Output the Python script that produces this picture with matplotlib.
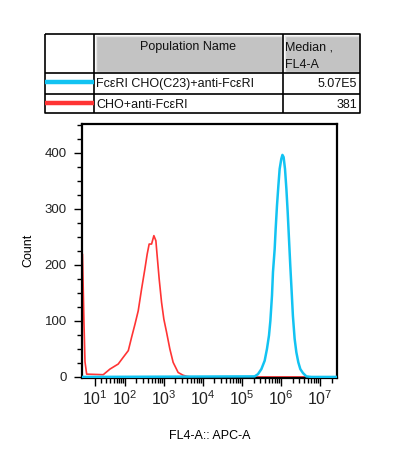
import numpy as np
import matplotlib
matplotlib.use("Agg")
import matplotlib.pyplot as plt
from matplotlib.patches import Rectangle

plt.rcParams['font.family'] = ['Liberation Sans', 'DejaVu Sans']

# ---------------- data ----------------
pop_names = ["FcεRI CHO(C23)+anti-FcεRI", "CHO+anti-FcεRI"]
medians = ["5.07E5", "381"]
header_name = "Population Name"
header_stat = ["Median ,", "FL4-A"]
series_colors = ["#12C3F2", "#FF3434"]

red_x = [-8.3, -7.6, -5.5, -4.1, -1.8, 23.6, 38.8, 66.4, 90.4, 123, 150, 183, 222,
         271, 330, 377, 424, 489, 560, 630, 680, 765, 881, 1009, 1182, 1436,
         1745, 2341, 3143, 3979, 5000, 2.7e7]
red_y = [0, 219, 97, 27, 5, 4, 14, 23, 35, 47, 71, 94, 118,
         157, 193, 219, 237, 237, 252, 243, 216, 175, 133, 103, 80, 50,
         26, 8, 3, 1, 0, 0]

blue_x = [-8.3, 2.14e5, 2.60e5, 3.18e5, 3.86e5, 4.42e5, 4.98e5, 5.40e5, 5.94e5,
          6.30e5, 6.96e5, 7.38e5, 7.97e5, 8.66e5, 9.34e5, 1.03e6, 1.10e6,
          1.18e6, 1.28e6, 1.39e6, 1.50e6, 1.62e6, 1.75e6, 1.90e6, 2.04e6,
          2.26e6, 2.50e6, 2.81e6, 3.16e6, 3.69e6, 4.50e6, 6.0e6, 2.7e7]
blue_y = [0, 1, 5, 14, 29, 50, 74, 100, 145,
          187, 228, 264, 305, 341, 371, 389, 396,
          392, 371, 335, 294, 246, 198, 151, 109,
          68, 44, 26, 14, 7, 1, 0, 0]

x_major = [10, 100, 1e3, 1e4, 1e5, 1e6, 1e7]
x_major_labels = [r"$\mathregular{10^{%d}}$" % e for e in range(1, 8)]
x_minor = [k * 10.0 ** n for n in range(1, 8) for k in range(2, 10)]
y_major = [0, 100, 200, 300, 400]
y_minor = [25, 50, 75, 125, 150, 175, 225, 250, 275, 325, 350, 375, 425, 450]

# ---------------- figure ----------------
W, H = 403, 462
fig = plt.figure(figsize=(W / 100, H / 100), dpi=100)

ax = fig.add_axes([82 / W, 1 - 377.5 / H, (337 - 82) / W, (377.5 - 123.5) / H])

C = 23.0
fwd = lambda x: np.arcsinh(np.asarray(x, dtype=float) / C) / np.log(10)
inv = lambda y: C * np.sinh(np.asarray(y, dtype=float) * np.log(10))
ax.set_xscale('function', functions=(fwd, inv))

ax.plot(red_x, red_y, color=series_colors[1], lw=1.2, zorder=2)
ax.plot(blue_x, blue_y, color=series_colors[0], lw=1.8, zorder=3)

ax.set_xlim(-8.3, 2.75e7)
ax.set_ylim(-1, 452)

ax.set_xticks(x_major)
ax.set_xticklabels(x_major_labels, fontsize=11.5)
ax.set_xticks([v for v in x_minor if v < 2.75e7], minor=True)
ax.set_yticks(y_major)
ax.set_yticklabels([str(v) for v in y_major], fontsize=9.5)
ax.set_yticks(y_minor, minor=True)

ax.tick_params(which='major', direction='out', length=6, width=1, color='black', labelcolor='#222222')
ax.tick_params(which='minor', direction='out', length=3.5, width=1, color='black')
ax.tick_params(axis='x', which='major', pad=2.5)
ax.tick_params(axis='y', which='major', pad=5)
for s in ax.spines.values():
    s.set_linewidth(1.6)

ax.set_ylabel("Count", fontsize=9, labelpad=7)
ax.set_xlabel("FL4-A:: APC-A", fontsize=9, labelpad=16)

# ---------------- table overlay ----------------
tab = fig.add_axes([0, 0, 1, 1], zorder=-1)
tab.set_xlim(0, W)
tab.set_ylim(H, 0)
tab.axis('off')

x0, x1, x2, x3 = 45, 94, 283, 360
yt, yh, yr, yb = 34, 73, 94, 113

# header gray cells
for (a, b) in [(x1, x2), (x2, x3)]:
    tab.add_patch(Rectangle((a + 1.5, yt + 1.5), b - a - 3, yh - yt - 3,
                            facecolor='#c3c3c3', edgecolor='#e6e6e6', lw=1))
# grid lines
lk = dict(color='black', lw=1.2, solid_capstyle='butt')
tab.plot([x0, x3, x3, x0, x0], [yt, yt, yb, yb, yt], **lk)
tab.plot([x0, x3], [yh, yh], **lk)
tab.plot([x0, x3], [yr, yr], **lk)
tab.plot([x1, x1], [yt, yb], **lk)
tab.plot([x2, x2], [yt, yb], **lk)

tab.text((x1 + x2) / 2, 47, header_name, ha='center', va='center', fontsize=9, color='#111111')
tab.text(x2 + 2, 48, header_stat[0], ha='left', va='center', fontsize=9, color='#111111')
tab.text(x2 + 2, 65, header_stat[1], ha='left', va='center', fontsize=9, color='#111111')

row_centers = [84, 104.5]
line_y = [81.7, 102.7]
for i in range(2):
    tab.plot([x0, x1], [line_y[i], line_y[i]], color=series_colors[i], lw=3.2,
             solid_capstyle='butt')
    tab.text(x1 + 2, row_centers[i], pop_names[i], ha='left', va='center',
             fontsize=9, color='#111111')
    tab.text(x3 - 3, row_centers[i], medians[i], ha='right', va='center',
             fontsize=9, color='#111111')

fig.savefig("out.png", dpi=100, facecolor='white')
